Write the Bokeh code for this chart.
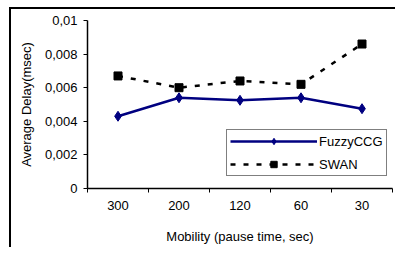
from bokeh.plotting import figure
from bokeh.models import FixedTicker, Range1d, Legend, LegendItem, InlineStyleSheet
from bokeh.embed import file_html
from bokeh.resources import INLINE

categories = ["300", "200", "120", "60", "30"]
fuzzyccg = [0.0043, 0.0054, 0.00525, 0.0054, 0.00475]
swan = [0.0067, 0.0060, 0.0064, 0.0062, 0.0086]
y_ticks = [0, 0.002, 0.004, 0.006, 0.008, 0.01]
y_tick_labels = ["0", "0,002", "0,004", "0,006", "0,008", "0,01"]

xs = list(range(len(categories)))
FONT = "Liberation Sans"

p = figure(width=395, height=247, output_backend="svg", toolbar_location=None,
           x_range=Range1d(-0.5, len(categories) - 0.5), y_range=Range1d(0, 0.01),
           min_border_left=87, min_border_right=3, min_border_top=20, min_border_bottom=59)
p.outline_line_color = None
p.border_fill_color = None
p.background_fill_color = "white"
p.xgrid.visible = False
p.ygrid.visible = False
frame_css = ("linear-gradient(black, black) 9px 7px / 2px 100% no-repeat, "
             "linear-gradient(black, black) 9px 7px / 100% 2px no-repeat, white")
p.stylesheets = [InlineStyleSheet(css=":host { background: " + frame_css + "; }")]

l1 = p.line(xs, fuzzyccg, line_color="#000080", line_width=2.5)
m1 = p.scatter(xs, fuzzyccg, marker="diamond", size=10, color="#000080")
l2 = p.line(xs, swan, line_color="black", line_width=2.5, line_dash="5 8")
m2 = p.scatter(xs, swan, marker="square", size=8, color="black")

p.xaxis.ticker = FixedTicker(ticks=xs, minor_ticks=[i - 0.5 for i in range(len(categories) + 1)])
p.xaxis.major_label_overrides = {i: c for i, c in enumerate(categories)}
p.xaxis.major_tick_out = 0
p.xaxis.major_tick_in = 0
p.xaxis.minor_tick_out = 4
p.xaxis.minor_tick_in = 0
p.xaxis.minor_tick_line_color = "black"
p.xaxis.major_label_standoff = 8
p.xaxis.axis_label = "Mobility (pause time, sec)"
p.xaxis.axis_label_standoff = 16

p.yaxis.ticker = FixedTicker(ticks=y_ticks, minor_ticks=[])
p.yaxis.major_label_overrides = {t: l for t, l in zip(y_ticks, y_tick_labels)}
p.yaxis.major_tick_out = 4
p.yaxis.major_tick_in = 0
p.yaxis.major_label_standoff = 6
p.yaxis.axis_label = "Average Delay(msec)"
p.yaxis.axis_label_standoff = 8

for ax in (p.xaxis, p.yaxis):
    ax.axis_line_color = "black"
    ax.axis_line_width = 1.5
    ax.major_tick_line_color = "black"
    ax.major_label_text_font = FONT
    ax.major_label_text_font_size = "13px"
    ax.major_label_text_color = "black"
    ax.axis_label_text_font = FONT
    ax.axis_label_text_font_size = "13px"
    ax.axis_label_text_font_style = "normal"
    ax.axis_label_text_color = "black"

legend = Legend(items=[LegendItem(label="FuzzyCCG", renderers=[l1, m1]),
                       LegendItem(label="SWAN", renderers=[l2, m2])],
                location=(139, 12))
legend.label_text_font = FONT
legend.label_text_font_size = "13px"
legend.label_text_color = "black"
legend.border_line_color = "black"
legend.border_line_width = 1
legend.background_fill_alpha = 1
legend.padding = 3
legend.margin = 0
legend.spacing = 7
legend.glyph_width = 87
legend.glyph_height = 16
legend.label_height = 16
legend.label_standoff = 2
p.add_layout(legend, "center")

open("out.html", "w").write(file_html(p, INLINE))
